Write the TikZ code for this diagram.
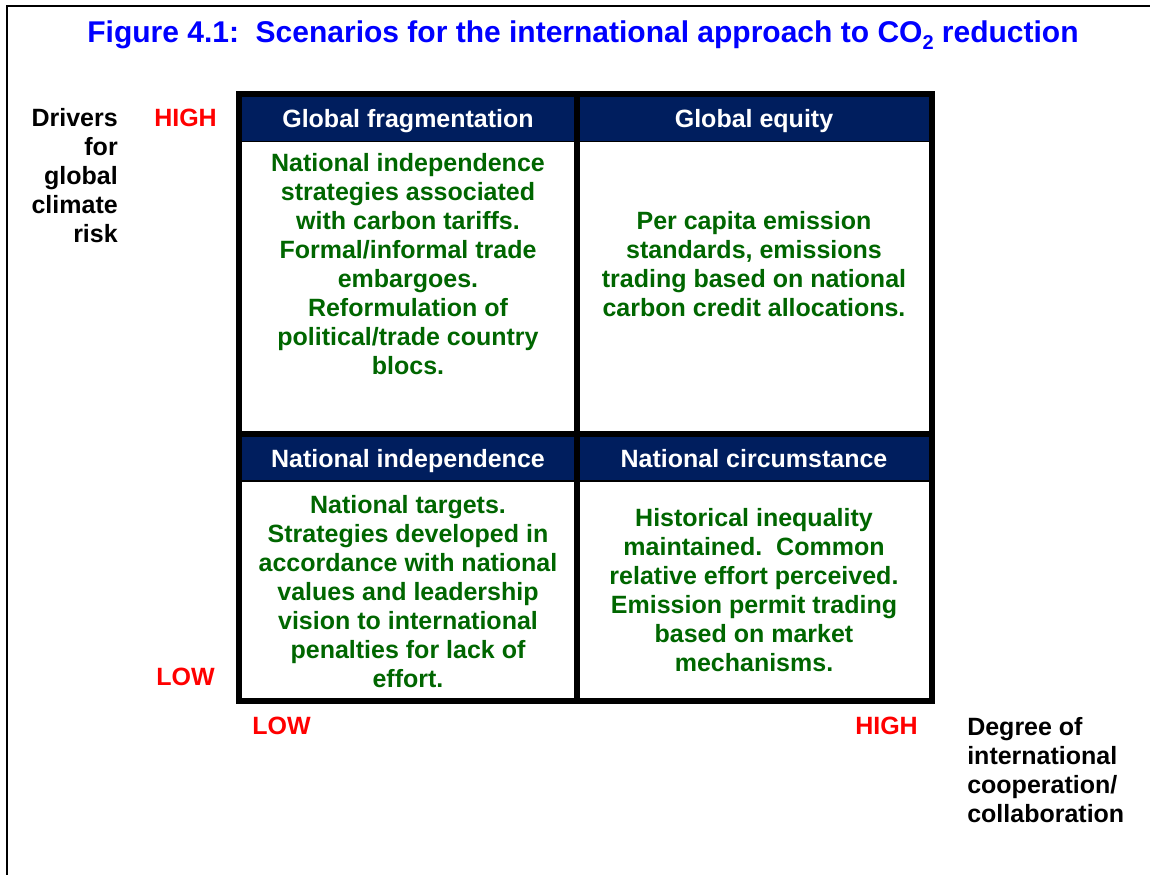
\documentclass[tikz,border=0pt]{standalone}
\usepackage{fontspec}
\setmainfont{Liberation Sans}
\definecolor{navy}{RGB}{0,30,94}
\definecolor{dgreen}{RGB}{0,102,0}
\definecolor{tblue}{RGB}{0,0,255}
\definecolor{lred}{RGB}{255,0,0}
\begin{document}
\begin{tikzpicture}[x=0.75pt,y=-0.75pt,
 txt/.style={font=\fontsize{18.75}{21.75}\selectfont\bfseries, inner sep=0pt},
 body/.style={txt, text=dgreen, align=center},
 head/.style={txt, text=white, anchor=base},
 axislab/.style={txt, text=lred, anchor=base},
 lab/.style={txt, text=black},
 gridline/.style={line width=4.5pt, line cap=rect},
 headfill/.style={fill=navy}]
\useasboundingbox (0,0) rectangle (1150,875);
% page frame
\draw[line width=1.4pt] (7,875) -- (7,6) -- (1150,6);
% title
\node[txt, anchor=base, text=tblue, font=\fontsize{22.5}{26}\selectfont\bfseries] (title) at (583,42.7)
  {Figure 4.1:\ \ Scenarios for the international approach to CO\raisebox{-0.22em}{\fontsize{15}{15}\selectfont 2} reduction};
% header fills
\fill[headfill] (239,94) rectangle (932,141.5);
\fill[headfill] (239,434) rectangle (932,481);
\draw[line width=0.9pt] (239,141.5) -- (932,141.5);
\draw[line width=0.9pt] (239,481) -- (932,481);
% grid
\draw[gridline] (239,94) rectangle (932,701);
\draw[gridline] (577,94) -- (577,701);
\draw[gridline] (239,434) -- (932,434);
% headers
\node[head] (h1) at (408,127) {Global fragmentation};
\node[head] (h2) at (754,127) {Global equity};
\node[head] (h3) at (408,467) {National independence};
\node[head] (h4) at (754,467) {National circumstance};
% bodies
\node[body] (b1) at (408,264.5) {National independence\\strategies associated\\with carbon tariffs.\\Formal/informal trade\\embargoes.\\Reformulation of\\political/trade country\\blocs.};
\node[body] (b2) at (754,264.5) {Per capita emission\\standards, emissions\\trading based on national\\carbon credit allocations.};
\node[body] (b3) at (408,591.5) {National targets.\\Strategies developed in\\accordance with national\\values and leadership\\vision to international\\penalties for lack of\\effort.};
\node[body] (b4) at (754,590.5) {Historical inequality\\maintained.\ \ Common\\relative effort perceived.\\Emission permit trading\\based on market\\mechanisms.};
% axis labels
\node[lab, align=right, anchor=east] (drivers) at (118,176) {Drivers\\for\\global\\climate\\risk};
\node[axislab] (yhigh) at (185.5,126) {HIGH};
\node[axislab] (ylow) at (185.5,685) {LOW};
\node[axislab] (xlow) at (281.5,734) {LOW};
\node[axislab] (xhigh) at (886.5,734.5) {HIGH};
\node[lab, align=left, anchor=west] (degree) at (967,770) {Degree of\\international\\cooperation/\\collaboration};
\end{tikzpicture}
\end{document}
